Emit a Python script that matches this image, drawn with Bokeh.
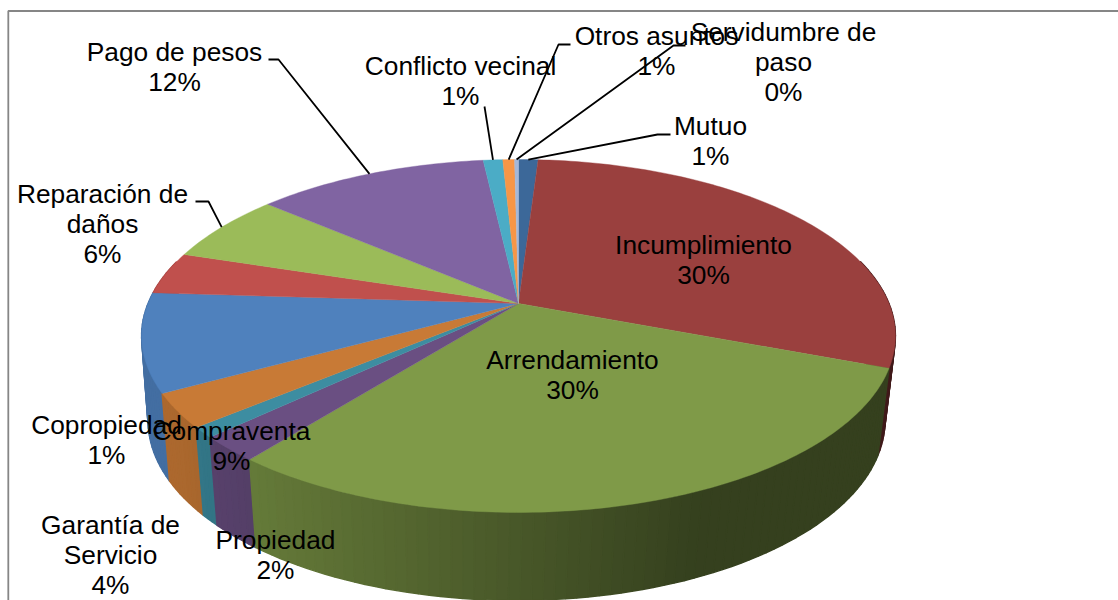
import math
from bokeh.plotting import figure
from bokeh.core.properties import value
from bokeh.embed import file_html
from bokeh.resources import INLINE

# ---- data (clockwise from the top), shares
categories = ["Mutuo", "Incumplimiento", "Arrendamiento", "Propiedad", "Copropiedad",
              "Garantía de Servicio", "Compraventa", "Sin etiqueta", "Reparación de daños",
              "Pago de pesos", "Conflicto vecinal", "Otros asuntos", "Servidumbre de paso"]
shares = [1.0, 29.8, 29.9, 2.3, 0.95, 3.1, 9.0, 3.9, 6.4, 11.9, 1.0, 0.6, 0.2]
percent_labels = ["1%", "30%", "30%", "2%", "1%", "4%", "9%", "", "6%", "12%", "1%", "1%", "0%"]
colors = ["#3c6899", "#9a403e", "#7f9a48", "#6a4f82", "#3d8da1", "#c87a36", "#4f81bd",
          "#c0504d", "#9bbb59", "#8064a2", "#4bacc6", "#f79646", "#a5b8d8"]

# ---- layout
W, H = 1118, 600
FONT = "Liberation Sans"
SIZE = "26.3px"


class Proj:
    """Perspective view of a circular face, in page pixels."""
    def __init__(self, cx, y0, b, k, rx):
        self.cx, self.y0, self.b, self.k, self.rx = cx, y0, b, k, rx

    def __call__(self, deg, r=1.0):
        t = math.radians(deg)
        u, v = r * math.sin(t), r * math.cos(t)
        w = 1 + self.k * v
        return self.cx + self.rx * u / w, self.y0 - self.b * v / w


top = Proj(518, 303, 170.5, 0.184, 370.5)
bottom = Proj(516, 389, 174.6, 0.172, 363)

total = sum(shares)
edges = [0.0]
for s in shares:
    edges.append(edges[-1] + s / total * 360)


def shade(hex_color, f):
    r, g, b = (int(hex_color[i:i + 2], 16) for i in (1, 3, 5))
    return "#%02x%02x%02x" % (int(r * f), int(g * f), int(b * f))


def side_factor(x):
    f = 0.80 - 0.38 * (x - 245) / 455
    return max(0.42, min(0.86, f))


p = figure(width=W, height=H, x_range=(0, W), y_range=(H, 0),
           toolbar_location=None, output_backend="svg", min_border=0)
p.axis.visible = False
p.grid.visible = False
p.outline_line_color = None
p.background_fill_color = "white"
p.border_fill_color = "white"

# frame
p.line([7.8, 7.8, 1118], [610, 10.5, 10.5], line_color="#868686", line_width=1.8)

# side walls, back to front
strips = []
for i, c in enumerate(colors):
    a0, a1 = edges[i], edges[i + 1]
    n = max(1, int(math.ceil((a1 - a0) / 1.5)))
    for j in range(n):
        d0 = a0 + (a1 - a0) * j / n
        d1 = a0 + (a1 - a0) * (j + 1) / n
        dm = (d0 + d1) / 2
        if math.cos(math.radians(dm)) > 0.25:
            continue
        pts = [top(d0), top(d1), bottom(d1), bottom(d0)]
        col = shade(c, side_factor(top(dm)[0]))
        strips.append((-math.cos(math.radians(dm)), [q[0] for q in pts], [q[1] for q in pts], col))
strips.sort(key=lambda s: s[0])
p.patches([s[1] for s in strips], [s[2] for s in strips],
          fill_color=[s[3] for s in strips], line_color=[s[3] for s in strips], line_width=1.4)

# top face
xs, ys = [], []
for i in range(len(shares)):
    a0, a1 = edges[i], edges[i + 1]
    n = max(2, int((a1 - a0) / 1.0))
    pts = [top(0, 0)] + [top(a0 + (a1 - a0) * j / n) for j in range(n + 1)]
    xs.append([q[0] for q in pts])
    ys.append([q[1] for q in pts])
p.patches(xs, ys, fill_color=colors, line_color=colors, line_width=0.4)

# leader lines: label-side elbow points, ending on the slice's rim
leaders = {
    "Pago de pesos": [(268, 59), (278, 59)],
    "Reparación de daños": [(195, 201), (208, 201)],
    "Conflicto vecinal": [(484, 106)],
    "Otros asuntos": [(570, 44), (558, 44)],
    "Servidumbre de paso": [(685, 45), (673, 45)],
    "Mutuo": [(670, 134), (657, 134)],
}
for name, pts in leaders.items():
    i = categories.index(name)
    end = top((edges[i] + edges[i + 1]) / 2)
    p.line([q[0] for q in pts] + [end[0]], [q[1] for q in pts] + [end[1]],
           line_color="black", line_width=1.8)

# label placement: category -> (x, first line y, line split)
placement = {
    "Pago de pesos": (174, 51, ["Pago de pesos"]),
    "Reparación de daños": (102, 193, ["Reparación de", "daños"]),
    "Conflicto vecinal": (460, 65, ["Conflicto vecinal"]),
    "Otros asuntos": (656, 35, ["Otros asuntos"]),
    "Servidumbre de paso": (783, 31, ["Servidumbre de", "paso"]),
    "Mutuo": (710, 125, ["Mutuo"]),
    "Incumplimiento": (703, 244, ["Incumplimiento"]),
    "Arrendamiento": (572, 359, ["Arrendamiento"]),
    "Copropiedad": (106, 424, ["Copropiedad"]),
    "Compraventa": (231, 430, ["Compraventa"]),
    "Garantía de Servicio": (110, 524, ["Garantía de", "Servicio"]),
    "Propiedad": (275, 539, ["Propiedad"]),
}
tx, ty, tt = [], [], []
for name, (x, y, lines) in placement.items():
    rows = lines + [percent_labels[categories.index(name)]]
    for k, row in enumerate(rows):
        tx.append(x)
        ty.append(y + k * 30.2)
        tt.append(row)
p.text(tx, ty, text=tt, text_font=value(FONT), text_font_size=value(SIZE),
       text_color="black", text_align="center", text_baseline="middle")

open("out.html", "w").write(file_html(p, INLINE))
